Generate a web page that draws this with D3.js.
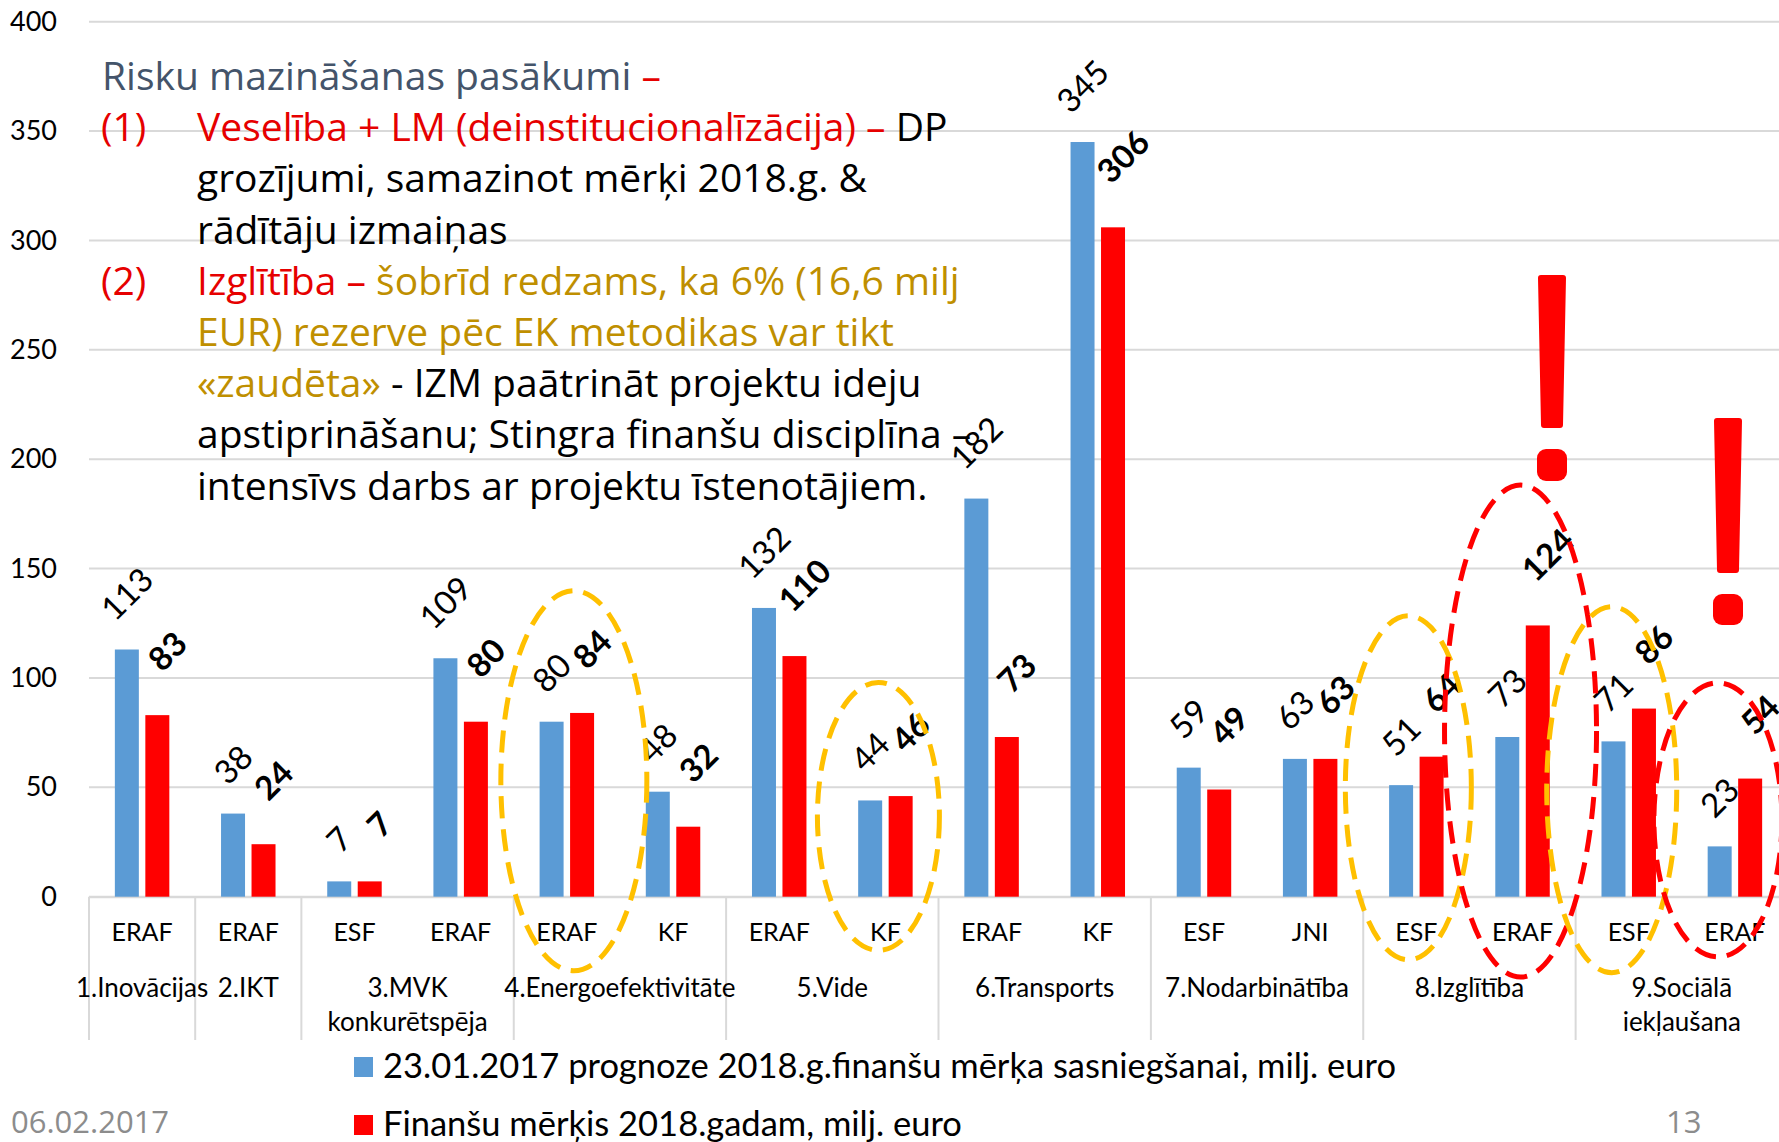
<!DOCTYPE html>
<html>
<head>
<meta charset="utf-8">
<script src="https://cdn.jsdelivr.net/npm/d3@7/dist/d3.min.js"></script>
<style>
  html, body { margin: 0; padding: 0; background: #fff; overflow: hidden; }
  svg { display: block; }
</style>
</head>
<body>
<svg id="chart" width="1779" height="1142"></svg>
<script>
// --- data ---
const funds = ['ERAF', 'ERAF', 'ESF', 'ERAF', 'ERAF', 'KF', 'ERAF', 'KF', 'ERAF', 'KF', 'ESF', 'JNI', 'ESF', 'ERAF', 'ESF', 'ERAF'];
const groups = [['1.Inovācijas'], ['2.IKT'], ['3.MVK', 'konkurētspēja'], ['4.Energoefektivitāte'], ['5.Vide'],
  ['6.Transports'], ['7.Nodarbinātība'], ['8.Izglītība'], ['9.Sociālā', 'iekļaušana']];
const groupSizes = [1, 1, 2, 2, 2, 2, 2, 2, 2];
const forecast = [113, 38, 7, 109, 80, 48, 132, 44, 182, 345, 59, 63, 51, 73, 71, 23];
const target = [83, 24, 7, 80, 84, 32, 110, 46, 73, 306, 49, 63, 64, 124, 86, 54];
const yTicks = [0, 50, 100, 150, 200, 250, 300, 350, 400];
const seriesNames = ['23.01.2017 prognoze 2018.g.finanšu mērķa sasniegšanai, milj. euro',
  'Finanšu mērķis 2018.gadam, milj. euro'];

const BLUE = '#5b9bd5', RED = '#ff0000', GOLD = '#ffc000';
const TXT_RED = '#e60000', SLATE = '#44546a', OCHRE = '#bf8f00';
const GRID = '#d9d9d9';
const chartFont = 'Lato, "Open Sans", sans-serif';
const noteFont = '"Open Sans", "Noto Sans", sans-serif';

const svg = d3.select('#chart');
const W = 1779;

const plotLeft = 89, plotRight = 1788;
const x0 = d3.scaleBand().domain(d3.range(funds.length)).range([plotLeft, plotRight])
  .paddingInner(0.487).paddingOuter(0.2435);
const x1 = d3.scaleBand().domain([0, 1]).range([0, x0.bandwidth()]).paddingInner(0.213);
const y = d3.scaleLinear().domain([0, 400]).range([896.7, 21.7]);

// gridlines
svg.append('g').selectAll('line').data(yTicks).join('line')
  .attr('x1', plotLeft).attr('x2', W)
  .attr('y1', d => y(d)).attr('y2', d => y(d))
  .attr('stroke', GRID).attr('stroke-width', 2);

// y axis labels
const yAxis = svg.append('g').attr('transform', `translate(${plotLeft},0)`)
  .call(d3.axisLeft(y).tickValues(yTicks).tickSize(0).tickPadding(32));
yAxis.select('.domain').remove();
yAxis.selectAll('text').attr('font-family', chartFont).attr('font-size', 27).attr('fill', '#000');

// category separators and group labels
const step = x0.step();
const bounds = [plotLeft];
groupSizes.forEach(n => bounds.push(bounds[bounds.length - 1] + n * step));
svg.append('g').selectAll('line').data(bounds).join('line')
  .attr('x1', d => d).attr('x2', d => d)
  .attr('y1', y(0)).attr('y2', 1040)
  .attr('stroke', GRID).attr('stroke-width', 2);

const gl = svg.append('g').attr('font-family', chartFont).attr('font-size', 26).attr('text-anchor', 'middle');
groups.forEach((lines, k) => {
  const cx = (bounds[k] + bounds[k + 1]) / 2;
  lines.forEach((t, j) => gl.append('text').attr('x', cx).attr('y', 997 + j * 34).text(t));
});

// fund labels
const xAxis = svg.append('g').attr('transform', `translate(0,${y(0)})`)
  .call(d3.axisBottom(x0).tickSize(0).tickPadding(27).tickFormat(i => funds[i]));
xAxis.select('.domain').attr('stroke', GRID).attr('stroke-width', 2);
xAxis.selectAll('text').attr('font-family', chartFont).attr('font-size', 25).attr('fill', '#000');

// bars
const series = [forecast, target];
const colors = [BLUE, RED];
series.forEach((vals, s) => {
  svg.append('g').selectAll('rect').data(vals).join('rect')
    .attr('x', (d, i) => x0(i) + x1(s))
    .attr('width', x1.bandwidth())
    .attr('y', d => y(d))
    .attr('height', d => y(0) - y(d))
    .attr('fill', colors[s]);
});

// rotated value labels
const labFs = 33, cap = 0.72 * labFs;
series.forEach((vals, s) => {
  const g = svg.append('g').attr('font-family', chartFont).attr('font-size', labFs)
    .attr('font-weight', s ? 700 : 400);
  vals.forEach((v, i) => {
    const t = g.append('text').text(v);
    const w = t.node().getComputedTextLength();
    const cx = x0(i) + x1(s) + x1.bandwidth() / 2 + (s ? 10 : 0);
    const sx = cx - 0.7071 * (w - cap) / 2;
    const sy = y(v) - (s ? 42 : 27);
    t.attr('transform', `translate(${sx},${sy}) rotate(-45)`);
  });
});

// dashed ellipses (category, x nudge, centre value, radii)
const rings = [
  {i: 4, dx: 7, v: 53, rx: 73, ry: 190, c: GOLD},
  {i: 7, dx: -7, v: 36.7, rx: 61, ry: 134, c: GOLD},
  {i: 12, dx: -8, v: 49.8, rx: 63, ry: 172, c: GOLD},
  {i: 13, dx: -2, v: 75.7, rx: 76, ry: 246, c: RED},
  {i: 14, dx: -17, v: 48.9, rx: 65, ry: 183, c: GOLD},
  {i: 15, dx: -17, v: 35.1, rx: 64, ry: 137, c: RED}
];
svg.append('g').selectAll('ellipse').data(rings).join('ellipse')
  .attr('cx', d => x0(d.i) + x0.bandwidth() / 2 + d.dx)
  .attr('cy', d => y(d.v))
  .attr('rx', d => d.rx).attr('ry', d => d.ry)
  .attr('fill', 'none').attr('stroke', d => d.c)
  .attr('stroke-width', 5).attr('stroke-dasharray', '22 11');

// exclamation marks
const bangs = [{cx: 1552, top: 275, bar: 153, w: 28, dot: 34}, {cx: 1728, top: 418, bar: 155, w: 28, dot: 33}];
bangs.forEach(b => {
  const g = svg.append('g').attr('fill', RED).attr('stroke', RED).attr('stroke-width', 6).attr('stroke-linejoin', 'round');
  const hw = b.w / 2 - 3, hb = b.w / 2 - 6;
  g.append('path').attr('d', `M${b.cx - hw},${b.top + 3}L${b.cx + hw},${b.top + 3}L${b.cx + hb},${b.top + b.bar - 3}L${b.cx - hb},${b.top + b.bar - 3}Z`);
  g.append('rect').attr('x', b.cx - 15).attr('y', b.top + b.bar + 21).attr('width', 30).attr('height', b.dot - 2)
    .attr('rx', 9).attr('stroke', 'none');
});

// note text block
const notes = [
  {mark: null, parts: [['Risku mazināšanas pasākumi ', SLATE], ['–', TXT_RED]]},
  {mark: '(1)', parts: [['Veselība + LM (deinstitucionalīzācija) – ', TXT_RED], ['DP', '#000']]},
  {mark: null, parts: [['grozījumi, samazinot mērķi 2018.g. &', '#000']]},
  {mark: null, parts: [['rādītāju izmaiņas', '#000']]},
  {mark: '(2)', parts: [['Izglītība – ', TXT_RED], ['šobrīd redzams, ka 6% (16,6 milj', OCHRE]]},
  {mark: null, parts: [['EUR) rezerve pēc EK metodikas var tikt', OCHRE]]},
  {mark: null, parts: [['«zaudēta»', OCHRE], ['  - IZM paātrināt projektu ideju', '#000']]},
  {mark: null, parts: [['apstiprināšanu; Stingra finanšu disciplīna –', '#000']]},
  {mark: null, parts: [['intensīvs darbs ar projektu īstenotājiem.', '#000']]}
];
const ng = svg.append('g').attr('font-family', noteFont).attr('font-size', 39).attr('xml:space', 'preserve');
notes.forEach((ln, k) => {
  const by = 90 + k * 51.2;
  if (ln.mark) ng.append('text').attr('x', 101).attr('y', by).attr('fill', TXT_RED).text(ln.mark);
  const t = ng.append('text').attr('x', k === 0 ? 102 : 197).attr('y', by);
  ln.parts.forEach(p => t.append('tspan').attr('fill', p[1]).text(p[0]));
});

// legend
const lg = svg.append('g').attr('font-family', chartFont).attr('font-size', 34.5);
seriesNames.forEach((n, s) => {
  const yy = 1057 + s * 58;
  lg.append('rect').attr('x', 354).attr('y', yy).attr('width', 19).attr('height', 20).attr('fill', colors[s]);
  lg.append('text').attr('x', 383).attr('y', yy + 21).text(n);
});

// footer
const fg = svg.append('g').attr('font-family', noteFont).attr('font-size', 31).attr('fill', '#8c8c8c');
fg.append('text').attr('x', 11).attr('y', 1133).text('06.02.2017');
fg.append('text').attr('x', 1666).attr('y', 1133).text('13');
</script>
</body>
</html>
